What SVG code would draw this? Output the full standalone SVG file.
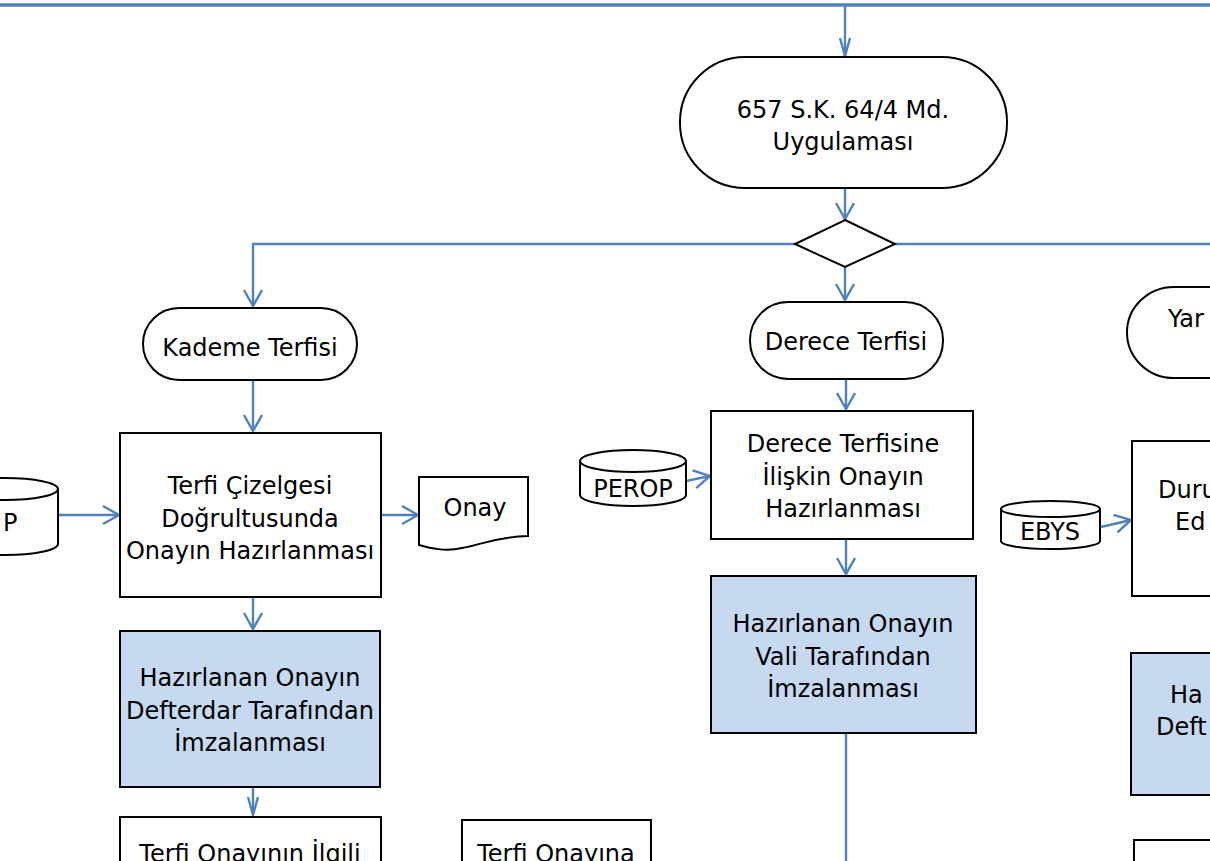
<svg xmlns="http://www.w3.org/2000/svg" width="1210" height="861" viewBox="0 0 1210 861">
<defs>
<style>
.s{fill:#fff;stroke:#000;stroke-width:2}
.b{fill:#C6D9F1;stroke:#000;stroke-width:2}
.c{fill:none;stroke:#4F81BD;stroke-width:2.4}
.t{font-family:"DejaVu Sans",Tahoma,sans-serif;font-size:24px;fill:#000;text-anchor:middle}
.ts{font-family:"DejaVu Sans",Tahoma,sans-serif;font-size:24px;fill:#000}
</style>
<marker id="a" markerWidth="20" markerHeight="22" refX="17" refY="10" orient="auto" markerUnits="userSpaceOnUse">
<polyline points="1,1 17,10 1,19" fill="none" stroke="#4F81BD" stroke-width="2.4"/>
</marker>
<marker id="an" markerWidth="22" markerHeight="14" refX="19" refY="6" orient="auto" markerUnits="userSpaceOnUse">
<polyline points="1,1 19,6 1,11" fill="none" stroke="#4F81BD" stroke-width="2.4"/>
</marker>
</defs>
<rect width="1210" height="861" fill="#fff"/>
<g id="connectors">
<line x1="0" y1="5" x2="1210" y2="5" stroke="#4F81BD" stroke-width="3.5"/>
<line class="c" x1="845" y1="5" x2="845" y2="56" marker-end="url(#an)"/>
<line class="c" x1="845" y1="188" x2="845" y2="219" marker-end="url(#a)"/>
<polyline class="c" points="795,244 253,244 253,306" marker-end="url(#a)"/>
<line class="c" x1="895" y1="244" x2="1210" y2="244"/>
<line class="c" x1="845" y1="267" x2="845" y2="300" marker-end="url(#a)"/>
<line class="c" x1="253" y1="380" x2="253" y2="431" marker-end="url(#a)"/>
<line class="c" x1="58" y1="515" x2="119" y2="515" marker-end="url(#a)"/>
<line class="c" x1="381" y1="515" x2="418" y2="515" marker-end="url(#a)"/>
<line class="c" x1="253" y1="597" x2="253" y2="629" marker-end="url(#a)"/>
<line class="c" x1="253" y1="787" x2="253" y2="815" marker-end="url(#an)"/>
<line class="c" x1="846" y1="379" x2="846" y2="409" marker-end="url(#a)"/>
<line class="c" x1="686" y1="481" x2="710" y2="476" marker-end="url(#a)"/>
<line class="c" x1="846" y1="539" x2="846" y2="574" marker-end="url(#a)"/>
<line class="c" x1="846" y1="733" x2="846" y2="861"/>
<line class="c" x1="1101" y1="527" x2="1131" y2="520" marker-end="url(#a)"/>
</g>
<g id="n-657">
<rect class="s" x="680" y="57" width="327" height="131" rx="65" ry="65"/>
<text class="t" x="843" y="118">657 S.K. 64/4 Md.</text>
<text class="t" x="843" y="150">Uygulaması</text>
</g>
<g id="n-decision">
<polygon class="s" points="845,220 895,244 845,267 795,244"/>
</g>
<g id="n-kademe">
<rect class="s" x="143" y="308" width="214" height="72" rx="36" ry="36"/>
<text class="t" x="250" y="356">Kademe Terfisi</text>
</g>
<g id="n-derece">
<rect class="s" x="750" y="302" width="193" height="77" rx="38" ry="38"/>
<text class="t" x="846" y="350">Derece Terfisi</text>
</g>
<g id="n-yar">
<path class="s" d="M1215,287 H1174 A47,45.5 0 0 0 1174,378 H1215"/>
<text class="ts" x="1168" y="327">Yar</text>
</g>
<g id="n-p-db">
<path class="s" d="M-48,489 A53,11 0 0 1 58,489 V544 A53,11 0 0 1 -48,544 Z"/>
<path class="s" fill="none" d="M-48,489 A53,11 0 0 0 58,489"/>
<text class="ts" x="3" y="531">P</text>
</g>
<g id="n-cizelge">
<rect class="s" x="120" y="433" width="261" height="164"/>
<text class="t" x="250" y="494">Terfi Çizelgesi</text>
<text class="t" x="250" y="527">Doğrultusunda</text>
<text class="t" x="250" y="559">Onayın Hazırlanması</text>
</g>
<g id="n-onay">
<path class="s" d="M419,477 H528 V536 C495,537 480,545 462,548 C445,552 430,548 419,545 Z"/>
<text class="t" x="475" y="516">Onay</text>
</g>
<g id="n-defterdar">
<rect class="b" x="120" y="631" width="260" height="156"/>
<text class="t" x="250" y="686">Hazırlanan Onayın</text>
<text class="t" x="250" y="719">Defterdar Tarafından</text>
<text class="t" x="250" y="751">İmzalanması</text>
</g>
<g id="n-ilgili">
<rect class="s" x="120" y="817" width="261" height="60"/>
<text class="t" x="250" y="862">Terfi Onayının İlgili</text>
</g>
<g id="n-onayina">
<rect class="s" x="462" y="820" width="189" height="60"/>
<text class="t" x="556" y="862">Terfi Onayına</text>
</g>
<g id="n-perop">
<path class="s" d="M580,461 A53,11 0 0 1 686,461 V495 A53,11 0 0 1 580,495 Z"/>
<path class="s" fill="none" d="M580,461 A53,11 0 0 0 686,461"/>
<text class="t" x="633" y="497">PEROP</text>
</g>
<g id="n-derece-onay">
<rect class="s" x="711" y="411" width="262" height="128"/>
<text class="t" x="843" y="452">Derece Terfisine</text>
<text class="t" x="843" y="485">İlişkin Onayın</text>
<text class="t" x="843" y="517">Hazırlanması</text>
</g>
<g id="n-vali">
<rect class="b" x="711" y="576" width="265" height="157"/>
<text class="t" x="843" y="632">Hazırlanan Onayın</text>
<text class="t" x="843" y="665">Vali Tarafından</text>
<text class="t" x="843" y="697">İmzalanması</text>
</g>
<g id="n-ebys">
<path class="s" d="M1001,509 A49.5,8 0 0 1 1100,509 V541 A49.5,8 0 0 1 1001,541 Z"/>
<path class="s" fill="none" d="M1001,509 A49.5,8 0 0 0 1100,509"/>
<text class="t" x="1050" y="540">EBYS</text>
</g>
<g id="n-dur">
<rect class="s" x="1132" y="441" width="100" height="155"/>
<text class="ts" x="1158" y="498">Duru</text>
<text class="ts" x="1175" y="530">Ed</text>
</g>
<g id="n-ha">
<rect class="b" x="1131" y="653" width="100" height="142"/>
<text class="ts" x="1170" y="703">Ha</text>
<text class="ts" x="1156" y="735">Deft</text>
</g>
<g id="n-bottom-right">
<rect class="s" x="1134" y="840" width="100" height="60"/>
</g>
</svg>
